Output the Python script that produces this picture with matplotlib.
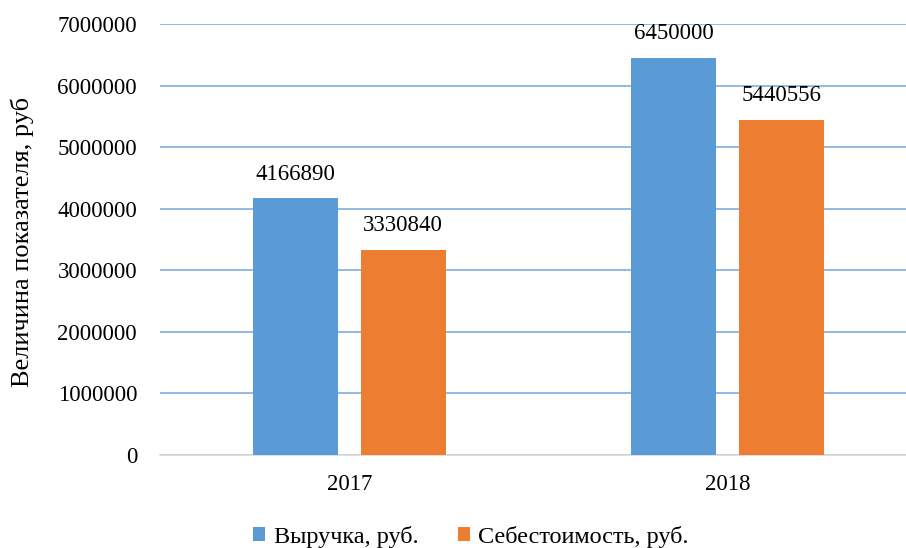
import matplotlib
matplotlib.use("Agg")
import matplotlib.pyplot as plt
import numpy as np

categories = ["2017", "2018"]
revenue = [4166890, 6450000]
cost = [3330840, 5440556]
series_names = ["Выручка, руб.", "Себестоимость, руб."]
yticks = [0, 1000000, 2000000, 3000000, 4000000, 5000000, 6000000, 7000000]

plt.rcParams['font.family'] = ['Liberation Serif', 'DejaVu Serif']

W, H = 906, 548
fig = plt.figure(figsize=(W/100, H/100), dpi=100)
ax = fig.add_axes([160/W, 93/H, 746/W, 431/H])

x = np.arange(len(categories))
bw = 0.225
off = 0.1427
blue = "#5B9BD5"
orange = "#ED7D31"
b1 = ax.bar(x - off, revenue, bw, color=blue, label=series_names[0], zorder=3)
b2 = ax.bar(x + off, cost, bw, color=orange, label=series_names[1], zorder=3)

for bars, vals in ((b1, revenue), (b2, cost)):
    for r, v in zip(bars, vals):
        ax.annotate(f"{v}", (r.get_x() + r.get_width()/2, v), xytext=(0, 10),
                    textcoords="offset points", ha="center", va="bottom",
                    fontsize=16.5, color="#000000")

ax.set_xlim(-0.5, -0.5 + 746/378.5)
ax.set_ylim(0, 7000000)
ax.set_yticks(yticks)
ax.set_yticklabels([str(t) for t in yticks], fontsize=16.5)
ax.set_xticks(x)
ax.set_xticklabels(categories, fontsize=16.5)
ax.tick_params(axis='both', length=0, colors="#000000")
ax.tick_params(axis='y', pad=16.5)
ax.tick_params(axis='x', pad=14)
ax.yaxis.grid(True, color="#7FAEDD", linewidth=1.2, zorder=0)
ax.set_axisbelow(True)
for s in ["top", "right", "left"]:
    ax.spines[s].set_visible(False)
ax.spines["bottom"].set_color("#D9D9D9")
ax.spines["bottom"].set_linewidth(1.2)

fig.text(22/W, 1 - 242/H, "Величина показателя, руб", rotation=90, ha="center", va="center",
         fontsize=19)

fig.legend(handles=[b1, b2], labels=series_names, loc="center", bbox_to_anchor=(471/W, 1 - 537/H),
           ncol=2, frameon=False, fontsize=17.5, handlelength=0.5, handleheight=0.5,
           handletextpad=0.35, columnspacing=1.6)

fig.savefig("out.png", dpi=100)
